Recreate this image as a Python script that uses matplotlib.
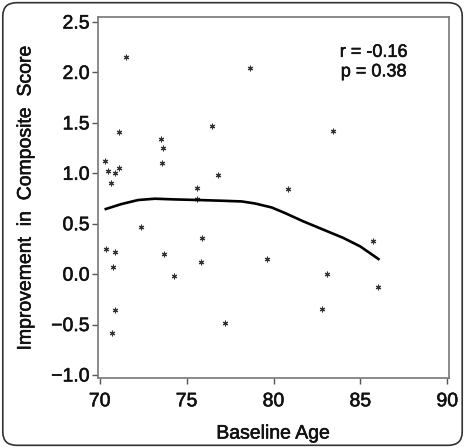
import numpy as np
import matplotlib
matplotlib.use("Agg")
import matplotlib.pyplot as plt
import matplotlib.patheffects as pe
from matplotlib.patches import FancyBboxPatch

plt.rcParams['font.family'] = ['Liberation Sans', 'DejaVu Sans']

# points
age = [71.54, 78.66, 71.08, 73.55, 73.65, 76.47, 83.41, 70.33, 70.48, 70.86,
       71.10, 70.67, 73.59, 76.78, 75.61, 80.82, 75.60, 72.40, 70.37, 70.90,
       73.71, 75.88, 75.80, 70.79, 74.25, 79.61, 85.70, 83.07, 86.04, 82.78,
       77.22, 70.85, 70.71]
improvement = [2.15, 2.04, 1.41, 1.34, 1.25, 1.47, 1.42, 1.12, 1.02, 1.00,
               1.055, 0.90, 1.10, 0.98, 0.85, 0.84, 0.75, 0.467, 0.25, 0.22,
               0.20, 0.36, 0.117, 0.07, -0.02, 0.147, 0.325, 0.0, -0.124, -0.345,
               -0.48, -0.36, -0.58]

# courbe lissée
smooth_x = [70.35, 71.25, 72.21, 73.17, 74.32, 75.67, 77.01, 78.17, 78.93, 79.90,
            80.66, 81.72, 82.87, 84.02, 84.99, 86.04]
smooth_y = [0.646, 0.695, 0.735, 0.748, 0.741, 0.735, 0.728, 0.721, 0.701, 0.661,
            0.606, 0.523, 0.441, 0.359, 0.275, 0.150]

xticks = [70, 75, 80, 85, 90]
yticks = [-1.0, -0.5, 0.0, 0.5, 1.0, 1.5, 2.0, 2.5]

stroke = [pe.withStroke(linewidth=0.4, foreground='#111111')]

fig = plt.figure(figsize=(4.65, 4.48), dpi=100)
ax = fig.add_axes([98 / 465, 1 - 378 / 448, 351 / 465, 361 / 448])

ax.scatter(age, improvement, marker=(6, 2, 0), s=12, color='#333333', linewidths=0.8)
ax.plot(smooth_x, smooth_y, color='black', lw=1.9)

ax.set_xlim(69.9, 90.1)
ax.set_ylim(-1.03, 2.55)
ax.set_xticks(xticks)
ax.set_yticks(yticks)
ax.set_xticklabels([str(t) for t in xticks])
ax.set_yticklabels([f"{t:.1f}".replace('-', '\u2212') for t in yticks])
ax.tick_params(direction='out', length=4, width=1, color='#555555',
               labelsize=14, labelcolor='#111111')
ax.tick_params(axis='x', pad=7)
ax.tick_params(axis='y', pad=2)
for lab in ax.get_xticklabels() + ax.get_yticklabels():
    lab.set_path_effects(stroke)
for s in ax.spines.values():
    s.set_color('#777777')
    s.set_linewidth(1.2)

ax.set_xlabel('Baseline Age', fontsize=14, color='#111111', labelpad=11,
              path_effects=stroke)
ax.set_ylabel('Improvement  in  Composite  Score', fontsize=14, color='#111111',
              labelpad=12, path_effects=stroke)

ax.text(0.785, 0.875, 'r = -0.16\np = 0.38', transform=ax.transAxes, ha='center',
        va='center', fontsize=13, color='#111111', linespacing=1.2,
        path_effects=stroke)

# cadre arrondi
frame = FancyBboxPatch((0.006, 0.006), 0.988, 0.988, boxstyle='round,pad=0,rounding_size=0.03',
                       transform=fig.transFigure, fill=False, edgecolor='#333333', lw=1.2)
fig.patches.append(frame)

fig.savefig('out.png', dpi=100)
